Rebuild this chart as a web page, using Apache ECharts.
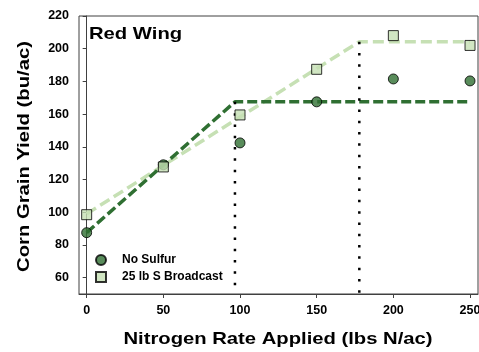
<!DOCTYPE html>
<html><head><meta charset="utf-8">
<script src="https://cdn.jsdelivr.net/npm/echarts@6/dist/echarts.min.js"></script>
<style>html,body{margin:0;padding:0;background:#fff}#c{width:479px;height:352px}</style>
</head><body><div id="c"></div>
<script>
var nitrogenRates = [0, 50, 100, 150, 200, 250];
var noSulfur = [87.5, 129, 142.4, 167.5, 181.5, 180.3];
var sulfur25 = [98.5, 127.7, 159.5, 187.4, 208, 202];
var fitNoSulfurX = [0, 96.7, 250];
var fitNoSulfurY = [87.5, 167.5, 167.5];
var fitSulfurX = [0, 177.8, 250];
var fitSulfurY = [99, 204.3, 204.3];
var xTicks = [0, 50, 100, 150, 200, 250];
var yTicks = [60, 80, 100, 120, 140, 160, 180, 200, 220];
var titleText = 'Red Wing';
var xName = 'Nitrogen Rate Applied (lbs N/ac)';
var yName = 'Corn Grain Yield (bu/ac)';

var DARK = '#2f6f32', LIGHT = '#c6e0b4';
var FONT = '"Liberation Sans", Arial, sans-serif';
var STRETCH = 1.19;
function pairs(xs, ys){ return xs.map(function(x,i){return [x, ys[i]];}); }
function label(text, x, y, rot, align){
  return {type: 'text', x: x, y: y, rotation: rot, scaleX: STRETCH, z: 10,
    style: {text: text, fontFamily: FONT, fontWeight: 'bold', fontSize: 17, fill: '#000',
            align: align, verticalAlign: 'middle', textAlign: align, textVerticalAlign: 'middle'}};
}

var chart = echarts.init(document.getElementById('c'));
chart.setOption({
  animation: false,
  grid: {left: 79, top: 16, right: 1, bottom: 58, show: true, borderColor: '#404040', borderWidth: 1,
         containLabel: false, outerBoundsMode: 'none'},
  graphic: [
    label(titleText, 89, 34.5, 0, 'left'),
    label(xName, 278, 339.5, 0, 'center'),
    label(yName, 24, 156.5, Math.PI / 2, 'center')
  ],
  legend: {
    orient: 'vertical', left: 95, top: 254, padding: 0, itemWidth: 10, itemHeight: 10, itemGap: 5,
    data: ['No Sulfur', '25 lb S Broadcast'],
    textStyle: {fontFamily: FONT, fontWeight: 'bold', fontSize: 12, color: '#000', lineHeight: 12, padding: [0,0,0,11]}
  },
  xAxis: {
    type: 'value', min: -5, max: 255.2,
    axisLine: {lineStyle: {color: '#404040'}},
    axisTick: {customValues: xTicks, length: 4, lineStyle: {color: '#404040'}},
    axisLabel: {customValues: xTicks, margin: 10, fontFamily: FONT, fontWeight: 'bold', fontSize: 12.5, color: '#000'},
    splitLine: {show: false}
  },
  yAxis: {
    type: 'value', min: 50, max: 220,
    axisLine: {show: true, lineStyle: {color: '#404040'}},
    axisTick: {show: true, customValues: yTicks, length: 4, lineStyle: {color: '#404040'}},
    axisLabel: {customValues: yTicks, margin: 10, fontFamily: FONT, fontWeight: 'bold', fontSize: 12.5, color: '#000'},
    splitLine: {show: false}
  },
  series: [
    {name: 'fitS', type: 'line', data: pairs(fitSulfurX, fitSulfurY), symbol: 'none', z: 2,
     lineStyle: {color: LIGHT, width: 3.5, type: [11, 5]}},
    {name: 'fitN', type: 'line', data: pairs(fitNoSulfurX, fitNoSulfurY), symbol: 'none', z: 3,
     lineStyle: {color: DARK, width: 3.5, type: [10, 4]}},
    {name: 'vN', type: 'line', data: [[fitNoSulfurX[1], fitNoSulfurY[1]], [fitNoSulfurX[1], 50]], symbol: 'none', z: 4,
     lineStyle: {color: '#000', width: 2.5, type: [2.5, 8.8]}},
    {name: 'vS', type: 'line', data: [[fitSulfurX[1], fitSulfurY[1]], [fitSulfurX[1], 50]], symbol: 'none', z: 4,
     lineStyle: {color: '#000', width: 2.5, type: [2.5, 8.8]}},
    {name: 'No Sulfur', type: 'scatter', data: pairs(nitrogenRates, noSulfur), symbol: 'circle', symbolSize: 10, z: 5,
     itemStyle: {color: DARK, borderColor: '#000', borderWidth: 1}},
    {name: '25 lb S Broadcast', type: 'scatter', data: pairs(nitrogenRates, sulfur25), symbol: 'rect', symbolSize: 10, z: 5,
     itemStyle: {color: LIGHT, borderColor: '#000', borderWidth: 1}}
  ]
});
</script></body></html>
